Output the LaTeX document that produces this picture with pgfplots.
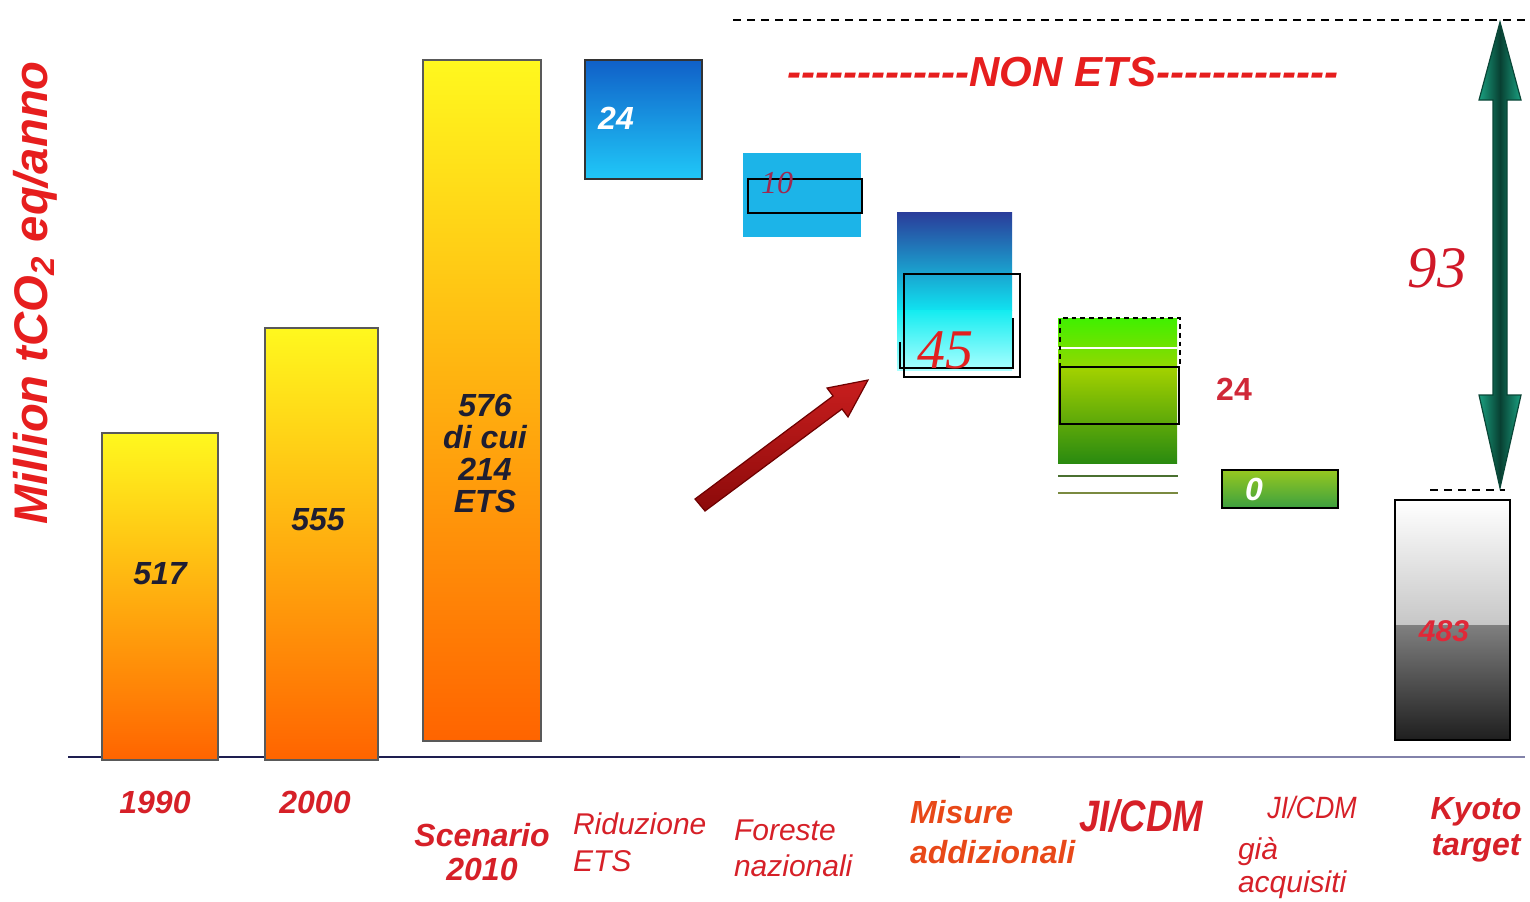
\documentclass[border=0pt]{standalone}
\usepackage{pgfplots}
\pgfplotsset{compat=1.18}
\usepackage{graphicx}
\usepackage{fontspec}
\setmainfont{Liberation Sans}
\newfontfamily\tnr{Liberation Serif}

\definecolor{lblred}{RGB}{214,32,40}
\definecolor{lblorange}{RGB}{232,72,24}
\definecolor{barink}{RGB}{30,30,50}

\tikzset{lbl/.style={inner sep=0pt, outer sep=0pt}}

% block drawn in picture units: [style]{x left}{x right}{y top}{y bottom}
\newcommand{\blk}[5][]{\addplot[#1] coordinates {(#2,#5) (#2,#4) (#3,#4) (#3,#5)} -- cycle;}
\newcommand{\fsz}[2]{\fontsize{#1}{#2}\selectfont}
\newcommand{\dashes}{-{}-{}-{}-{}-{}-{}-{}-{}-{}-{}-{}-{}-{}}

\begin{document}
\begin{tikzpicture}
\begin{axis}[
    width=382.5pt, height=225.25pt, scale only axis,
    xmin=0, xmax=1530, ymin=0, ymax=901, y dir=reverse,
    hide axis, clip=false
]
\addplot[draw=none] coordinates {(0,0) (1530,901)};

% baseline
\addplot[draw={rgb,255:red,30;green,30;blue,80}, line width=0.5pt] coordinates {(68,757) (960,757)};
\addplot[draw={rgb,255:red,130;green,130;blue,170}, line width=0.5pt] coordinates {(960,757) (1525,757)};

% 1990, 2000, Scenario 2010
\blk[draw=black!65, line width=0.4pt, top color={rgb,255:red,255;green,248;blue,30}, bottom color={rgb,255:red,255;green,100;blue,0}]{102}{218}{433}{760}
\blk[draw=black!65, line width=0.4pt, top color={rgb,255:red,255;green,248;blue,30}, bottom color={rgb,255:red,255;green,100;blue,0}]{265}{378}{328}{760}
\blk[draw=black!65, line width=0.4pt, top color={rgb,255:red,255;green,248;blue,30}, bottom color={rgb,255:red,255;green,100;blue,0}]{423}{541}{60}{741}

% Riduzione ETS
\blk[draw=black!80, line width=0.35pt, top color={rgb,255:red,16;green,96;blue,200}, bottom color={rgb,255:red,32;green,200;blue,248}]{585}{702}{60}{179}

% Foreste nazionali
\blk[draw=none, fill={rgb,255:red,28;green,180;blue,232}]{743}{861}{153}{237}
\blk[draw=black, line width=0.4pt]{748}{862}{179}{213}

% Misure addizionali
\blk[draw=none, top color={rgb,255:red,42;green,60;blue,154}, bottom color={rgb,255:red,16;green,226;blue,240}]{897}{1012}{212}{310}
\blk[draw=none, top color={rgb,255:red,20;green,236;blue,240}, bottom color={rgb,255:red,170;green,255;blue,255}]{897}{1012}{310}{370}
\blk[draw=black, line width=0.4pt]{904}{1020}{274}{377}
\addplot[draw=black, line width=0.4pt] coordinates {(900,342) (900,368) (1013,368) (1013,318)};

% JI/CDM
\blk[draw=none, top color={rgb,255:red,64;green,240;blue,0}, bottom color={rgb,255:red,150;green,214;blue,0}]{1058}{1177}{318}{370}
\blk[draw=none, top color={rgb,255:red,160;green,208;blue,0}, bottom color={rgb,255:red,42;green,138;blue,16}]{1058}{1177}{370}{463}
\addplot[draw=white, line width=0.4pt] coordinates {(1058,348) (1177,348)};
\addplot[draw=black, line width=0.6pt, dash pattern=on 1.2pt off 1pt] coordinates {(1060,368) (1060,318) (1180,318) (1180,368)};
\blk[draw=black, line width=0.45pt]{1060}{1179}{367}{424}
\addplot[draw={rgb,255:red,74;green,112;blue,48}, line width=0.6pt] coordinates {(1058,476) (1178,476)};
\addplot[draw={rgb,255:red,122;green,138;blue,64}, line width=0.6pt] coordinates {(1058,493) (1178,493)};

% JI/CDM gia acquisiti
\blk[draw=black, line width=0.45pt, top color={rgb,255:red,150;green,200;blue,32}, bottom color={rgb,255:red,60;green,160;blue,64}]{1222}{1338}{470}{508}

% Kyoto target
\blk[draw=none, top color=white, bottom color=black!22]{1395}{1510}{500}{625}
\blk[draw=none, top color=black!50, bottom color=black!88]{1395}{1510}{625}{740}
\blk[draw=black, line width=0.5pt]{1395}{1510}{500}{740}

% dashed reference lines
\addplot[draw=black, line width=0.35pt, dash pattern=on 2pt off 1.5pt] coordinates {(733,20) (1525,20)};
\addplot[draw=black, line width=0.35pt, dash pattern=on 2pt off 1.5pt] coordinates {(1430,490) (1505,490)};

% double arrow (93)
\addplot[draw={rgb,255:red,10;green,70;blue,55}, line width=0.3pt,
    left color={rgb,255:red,26;green,160;blue,128}, right color={rgb,255:red,26;green,160;blue,128},
    middle color={rgb,255:red,8;green,64;blue,50}]
  coordinates {(1500,22) (1521,100) (1507,100) (1507,395) (1521,395) (1500,488)
               (1479,395) (1493,395) (1493,100) (1479,100)} -- cycle;

% red arrow
\addplot[draw={rgb,255:red,110;green,0;blue,0}, line width=0.3pt,
    top color={rgb,255:red,200;green,30;blue,30}, bottom color={rgb,255:red,140;green,10;blue,10}]
  coordinates {(695,499) (833,396) (827,388) (868,380) (848,417) (842,409) (705,511)} -- cycle;

% value labels
\node[lbl, font=\fsz{8}{9}\bfseries\itshape, text=barink] at (axis cs:160,574) {517};
\node[lbl, font=\fsz{8}{9}\bfseries\itshape, text=barink] at (axis cs:318,520) {555};
\node[lbl, font=\fsz{8}{8}\bfseries\itshape, text=barink, align=center] at (axis cs:485,453) {576\\di cui\\214\\ETS};
\node[lbl, font=\fsz{8}{9}\bfseries\itshape, text=white] at (axis cs:616,118) {24};
\node[lbl, font=\fsz{8}{9}\tnr\itshape, text={rgb,255:red,160;green,40;blue,80}] at (axis cs:777,183) {10};
\node[lbl, font=\fsz{14}{16}\tnr\itshape, text={rgb,255:red,224;green,32;blue,32}] at (axis cs:945,350) {45};
\node[lbl, font=\fsz{8}{9}\bfseries, text={rgb,255:red,208;green,40;blue,56}] at (axis cs:1234,389) {24};
\node[lbl, font=\fsz{8}{9}\bfseries\itshape, text=white] at (axis cs:1254,489) {0};
\node[lbl, font=\fsz{7.5}{9}\bfseries\itshape, text={rgb,255:red,224;green,40;blue,56}] at (axis cs:1444,631) {483};
\node[lbl, font=\fsz{14.7}{16}\tnr\itshape, text={rgb,255:red,208;green,24;blue,40}] at (axis cs:1437,268) {93};

% NON ETS
\node[lbl, font=\fsz{10.5}{12}\bfseries\itshape, text={rgb,255:red,230;green,30;blue,30}] at (axis cs:1063,72) {\dashes NON ETS\dashes};

% y label
\node[lbl, font=\fsz{11.8}{13}\bfseries\itshape, text={rgb,255:red,230;green,30;blue,30}, rotate=90] at (axis cs:35,293) {Million tCO\textsubscript{2} eq/anno};

% category labels
\node[lbl, font=\fsz{8}{9}\bfseries\itshape, text=lblred] at (axis cs:155,802) {1990};
\node[lbl, font=\fsz{8}{9}\bfseries\itshape, text=lblred] at (axis cs:315,802) {2000};
\node[lbl, font=\fsz{8}{8.5}\bfseries\itshape, text=lblred, align=center] at (axis cs:482,852) {Scenario\\2010};
\node[lbl, font=\fsz{7.5}{9.2}\itshape, text=lblred, align=left, anchor=west] at (axis cs:573,842) {Riduzione\\ETS};
\node[lbl, font=\fsz{7.5}{9}\itshape, text=lblred, align=left, anchor=west] at (axis cs:734,848) {Foreste\\nazionali};
\node[lbl, font=\fsz{8}{10}\bfseries\itshape, text=lblorange, align=left, anchor=west] at (axis cs:910,832) {Misure\\addizionali};
\node[lbl, font=\fsz{11}{12}\bfseries\itshape, text=lblred] at (axis cs:1141,816) {\scalebox{0.83}[1]{JI/CDM}};
\node[lbl, font=\fsz{7.7}{9}\itshape, text=lblred] at (axis cs:1312,807) {\scalebox{0.87}[1]{JI/CDM}};
\node[lbl, font=\fsz{7.5}{8.2}\itshape, text=lblred, align=left, anchor=west] at (axis cs:1238,868) {già\\acquisiti};
\node[lbl, font=\fsz{8}{9}\bfseries\itshape, text=lblred, align=center] at (axis cs:1476,830) {Kyoto\\target};
\end{axis}
\end{tikzpicture}
\end{document}
